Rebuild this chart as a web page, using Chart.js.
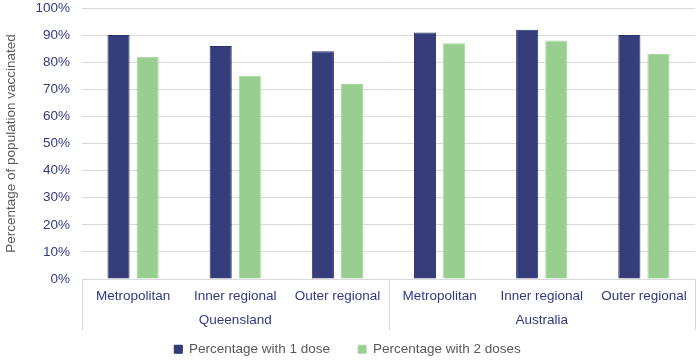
<!DOCTYPE html>
<html>
<head>
<meta charset="utf-8">
<script src="https://cdn.jsdelivr.net/npm/chart.js@4/dist/chart.umd.min.js"></script>
<style>
  html, body { margin: 0; padding: 0; background: #ffffff; }
  #wrap { width: 700px; height: 361px; }
</style>
</head>
<body>
<div id="wrap"><canvas id="grafico"></canvas></div>
<script>
const categorias = ['Metropolitan', 'Inner regional', 'Outer regional', 'Metropolitan', 'Inner regional', 'Outer regional'];
const grupos = ['Queensland', 'Australia'];
const umaDose = [90, 86, 84, 91, 92, 90];
const duasDoses = [82, 75, 72, 87, 88, 83];

const corTexto = '#2f3a84';
const corCinza = '#595959';
const corGrade = '#d9d9d9';
const fonte = 'Liberation Sans, Arial, sans-serif';

// desenha os nomes dos grupos e as linhas separadoras abaixo do eixo
const gruposPlugin = {
    id: 'gruposPlugin',
    afterDraw(chart) {
        const ctx = chart.ctx;
        const x = chart.scales.x;
        const area = chart.chartArea;
        const meio = (x.getPixelForTick(2) + x.getPixelForTick(3)) / 2;
        const limites = [area.left, meio, area.right];
        const fim = area.bottom + 51;

        ctx.save();
        ctx.strokeStyle = corGrade;
        ctx.lineWidth = 1;
        for (let i = 0; i < limites.length; i++) {
            const px = Math.round(limites[i]) + 0.5;
            ctx.beginPath();
            ctx.moveTo(px, area.bottom);
            ctx.lineTo(px, fim);
            ctx.stroke();
        }

        ctx.fillStyle = corTexto;
        ctx.font = '13.5px ' + fonte;
        ctx.textAlign = 'center';
        ctx.textBaseline = 'middle';
        for (let g = 0; g < grupos.length; g++) {
            const cx = (limites[g] + limites[g + 1]) / 2;
            ctx.fillText(grupos[g], cx, area.bottom + 41);
        }
        ctx.restore();
    }
};

new Chart(document.getElementById('grafico'), {
    type: 'bar',
    data: {
        labels: categorias,
        datasets: [
            {
                label: 'Percentage with 1 dose',
                data: umaDose,
                backgroundColor: '#353d7a',
                borderColor: '#283070',
                borderWidth: 1,
                categoryPercentage: 0.57,
                barPercentage: 0.76
            },
            {
                label: 'Percentage with 2 doses',
                data: duasDoses,
                backgroundColor: '#98ce8f',
                borderColor: '#a6d79d',
                borderWidth: 1,
                categoryPercentage: 0.57,
                barPercentage: 0.76
            }
        ]
    },
    options: {
        responsive: true,
        maintainAspectRatio: false,
        animation: false,
        layout: { padding: { top: 8, right: 5, bottom: -5, left: 0 } },
        plugins: {
            legend: {
                position: 'bottom',
                labels: {
                    boxWidth: 8,
                    boxHeight: 8,
                    padding: 28,
                    color: corCinza,
                    font: { family: fonte, size: 13.5 }
                }
            },
            tooltip: { enabled: false }
        },
        scales: {
            x: {
                grid: { display: false, drawTicks: false },
                border: { color: corGrade },
                ticks: {
                    color: corTexto,
                    padding: 9,
                    maxRotation: 0,
                    autoSkip: false,
                    font: { family: fonte, size: 13.5 }
                },
                afterFit(scale) {
                    scale.height = 35.5;
                }
            },
            y: {
                min: 0,
                max: 100,
                ticks: {
                    stepSize: 10,
                    color: corTexto,
                    padding: 12,
                    font: { family: fonte, size: 13.5 },
                    callback: (v) => v + '%'
                },
                grid: { color: corGrade, drawTicks: false },
                border: { display: false },
                title: {
                    display: true,
                    text: 'Percentage of population vaccinated',
                    color: corCinza,
                    padding: { top: 3, bottom: 0 },
                    font: { family: fonte, size: 13.5 }
                },
                afterFit(scale) {
                    scale.width = 82;
                    scale.paddingTop = 0;
                    scale.paddingBottom = 0;
                }
            }
        }
    },
    plugins: [gruposPlugin]
});
</script>
</body>
</html>
